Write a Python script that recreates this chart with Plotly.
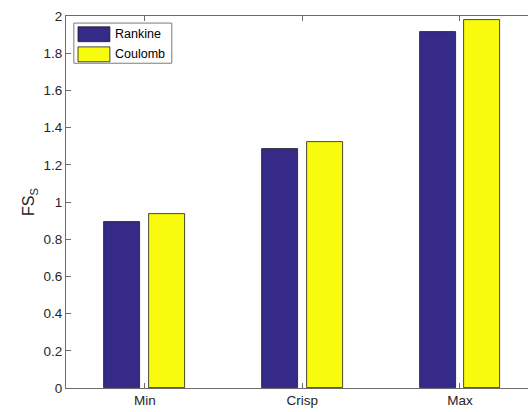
import plotly.graph_objects as go

# Safety factor per analysis case
categories = ["Min", "Crisp", "Max"]
series_names = ["Rankine", "Coulomb"]
rankine = [0.892, 1.285, 1.912]
coulomb = [0.935, 1.323, 1.978]
series_values = [rankine, coulomb]
series_colors = ["#352A87", "#F9FB0E"]
y_ticks = [0, 0.2, 0.4, 0.6, 0.8, 1, 1.2, 1.4, 1.6, 1.8, 2]
y_tick_labels = ["0", "0.2", "0.4", "0.6", "0.8", "1", "1.2", "1.4", "1.6", "1.8", "2"]

FONT = "Liberation Sans, Arial, sans-serif"
TEXT = "#262626"
AXIS = "#6a6a6a"

bar_width = 0.228
offsets = [-0.256, 0.028]

fig = go.Figure()
for name, vals, color, off in zip(series_names, series_values, series_colors, offsets):
    fig.add_trace(go.Bar(
        x=categories, y=vals, name=name,
        marker=dict(color=color, line=dict(color="#1a1a1a", width=0.8)),
        width=bar_width, offset=off, showlegend=False,
    ))

# Boxed legend with wide colour swatches
lx0, lx1 = 0.017, 0.229
ly1, ly0 = 0.981, 0.873
shapes = [dict(type="rect", xref="paper", yref="paper", x0=lx0, x1=lx1, y0=ly0, y1=ly1,
               line=dict(color="#7a7a7a", width=1), fillcolor="white", layer="above")]
annotations = []
row_h = (ly1 - ly0) / 2
for i, (name, color) in enumerate(zip(series_names, series_colors)):
    top = ly1 - i * row_h - 0.010
    bot = ly1 - (i + 1) * row_h + 0.004
    shapes.append(dict(type="rect", xref="paper", yref="paper",
                       x0=lx0 + 0.009, x1=lx0 + 0.078, y0=bot, y1=top,
                       line=dict(color="#1a1a1a", width=0.8), fillcolor=color, layer="above"))
    annotations.append(dict(xref="paper", yref="paper", x=lx0 + 0.084, y=(top + bot) / 2,
                            text=name, showarrow=False, xanchor="left", yanchor="middle",
                            font=dict(family=FONT, size=12.5, color="#000")))

fig.update_layout(
    width=528, height=412,
    margin=dict(l=66, r=0, t=16, b=24),
    paper_bgcolor="white", plot_bgcolor="white",
    font=dict(family=FONT, size=13.5, color=TEXT),
    shapes=shapes, annotations=annotations,
    bargap=0,
)
fig.update_xaxes(
    type="category", range=[-0.5, 2.432],
    showline=True, linecolor=AXIS, linewidth=1, mirror="ticks",
    ticks="inside", ticklen=5, tickcolor=AXIS,
    showgrid=False, zeroline=False, tickfont=dict(size=13.5, color=TEXT),
)
fig.update_yaxes(
    range=[0, 2], tickvals=y_ticks, ticktext=y_tick_labels,
    showline=True, linecolor=AXIS, linewidth=1, mirror=False,
    ticks="inside", ticklen=5, tickcolor=AXIS,
    showgrid=False, zeroline=False, tickfont=dict(size=13.5, color=TEXT),
    title=dict(text="FS<sub>S</sub>", font=dict(size=16, color=TEXT), standoff=4),
)

fig.write_html("out.html", config={"displayModeBar": False})
